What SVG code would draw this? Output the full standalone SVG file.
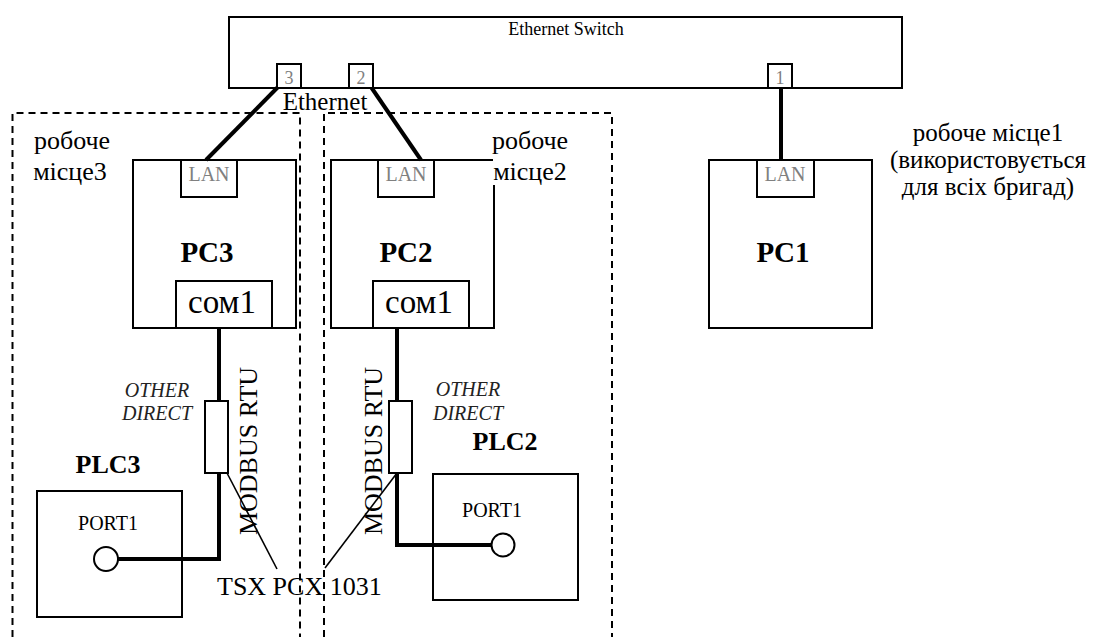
<svg xmlns="http://www.w3.org/2000/svg" width="1095" height="637" viewBox="0 0 1095 637" font-family="'Liberation Serif', 'Times New Roman', Tinos, 'DejaVu Serif', serif">
<style>
text{font-family:"Liberation Serif","Times New Roman",Tinos,"DejaVu Serif",serif;fill:#000}
.box{fill:none;stroke:#000;stroke-width:2}
.port{fill:#fff;stroke:#000;stroke-width:2}
.gray{fill:#808080}
.thick{fill:none;stroke:#000;stroke-width:4}
.thin{fill:none;stroke:#000;stroke-width:1.6}
.dash{fill:none;stroke:#000;stroke-width:2;stroke-dasharray:7 5}
.bold{font-weight:bold}
.it{font-style:italic;fill:#222}
.mid{text-anchor:middle}
</style>
<rect width="1095" height="637" fill="#fff"/>

<g id="zones">
  <path class="dash" d="M12.5,637 V113 H300 V637"/>
  <path class="dash" d="M324,637 V113 H612 V637"/>
</g>

<g id="connectors">
  <line class="thick" x1="278" y1="87" x2="206" y2="160"/>
  <line class="thick" x1="371" y1="87" x2="421" y2="160"/>
  <line class="thick" x1="781" y1="87" x2="781" y2="160"/>
  <path class="thick" d="M219,328 V559 H118"/>
  <path class="thick" d="M397,328 V545 H492"/>
  <line class="thin" x1="227" y1="473" x2="277" y2="569"/>
  <line class="thin" x1="397" y1="473" x2="325" y2="568"/>
</g>

<g id="switch">
  <rect class="box" x="229" y="17" width="673" height="71"/>
  <text class="mid" x="566" y="35" font-size="18">Ethernet Switch</text>
  <rect class="port" x="277" y="64" width="24" height="24"/>
  <text class="mid gray" x="289" y="84" font-size="18">3</text>
  <rect class="port" x="349" y="64" width="24" height="24"/>
  <text class="mid gray" x="361" y="84" font-size="18">2</text>
  <rect class="port" x="768" y="64" width="24" height="24"/>
  <text class="mid gray" x="780" y="84" font-size="18">1</text>
</g>

<g id="ethernet-label">
  <text class="mid" x="325" y="110" font-size="25">Ethernet</text>
</g>

<g id="label-ws3">
  <text class="mid" x="72" y="149" font-size="26">робоче</text>
  <text class="mid" x="70" y="180" font-size="26">місце3</text>
</g>
<g id="label-ws2">
  <text class="mid" x="530" y="149" font-size="26">робоче</text>
  <text class="mid" x="530" y="180" font-size="26">місце2</text>
</g>
<g id="label-ws1">
  <text class="mid" x="988" y="141" font-size="25">робоче місце1</text>
  <text class="mid" x="988" y="168" font-size="25">(використовується</text>
  <text class="mid" x="988" y="195" font-size="25">для всіх бригад)</text>
</g>

<g id="pc3">
  <rect class="box" x="133" y="160" width="163" height="168"/>
  <rect class="box" x="181" y="160" width="56" height="37"/>
  <text class="mid gray" x="209" y="181" font-size="20">LAN</text>
  <text class="mid bold" x="207" y="262" font-size="29">PC3</text>
  <rect class="box" x="176" y="281" width="96" height="47"/>
  <text class="mid" x="222" y="313" font-size="33">сом1</text>
</g>

<g id="pc2">
  <path class="box" d="M493,160 H331 V328 H494 V185"/>
  <rect class="box" x="378" y="160" width="56" height="37"/>
  <text class="mid gray" x="406" y="181" font-size="20">LAN</text>
  <text class="mid bold" x="406" y="262" font-size="29">PC2</text>
  <rect class="box" x="373" y="281" width="96" height="47"/>
  <text class="mid" x="419" y="313" font-size="33">сом1</text>
</g>

<g id="pc1">
  <rect class="box" x="709" y="160" width="163" height="168"/>
  <rect class="box" x="757" y="160" width="57" height="37"/>
  <text class="mid gray" x="785" y="181" font-size="20">LAN</text>
  <text class="mid bold" x="783" y="262" font-size="29">PC1</text>
</g>

<g id="cable3">
  <rect class="port" x="205" y="401" width="23" height="72"/>
  <text class="mid it" x="157" y="397" font-size="20">OTHER</text>
  <text class="mid it" x="157" y="420" font-size="20">DIRECT</text>
  <text class="mid" transform="translate(257,451) rotate(-90)" font-size="26">MODBUS RTU</text>
</g>

<g id="cable2">
  <rect class="port" x="389" y="401" width="23" height="72"/>
  <text class="mid it" x="468" y="396" font-size="20">OTHER</text>
  <text class="mid it" x="468" y="420" font-size="20">DIRECT</text>
  <text class="mid" transform="translate(382,451) rotate(-90)" font-size="26">MODBUS RTU</text>
</g>

<g id="tsx-label">
  <text x="217" y="595" font-size="26">TSX PCX 1031</text>
</g>

<g id="plc3">
  <text class="mid bold" x="108" y="473" font-size="26">PLC3</text>
  <rect class="box" x="37" y="491" width="145" height="126"/>
  <text class="mid" x="108" y="530" font-size="20">PORT1</text>
  <circle cx="106" cy="559" r="12" fill="#fff" stroke="#000" stroke-width="2"/>
</g>

<g id="plc2">
  <text class="mid bold" x="505" y="450" font-size="26">PLC2</text>
  <rect class="box" x="433" y="474" width="145" height="126"/>
  <text class="mid" x="492" y="517" font-size="20">PORT1</text>
  <circle cx="503" cy="545" r="11.5" fill="#fff" stroke="#000" stroke-width="2"/>
</g>
</svg>
